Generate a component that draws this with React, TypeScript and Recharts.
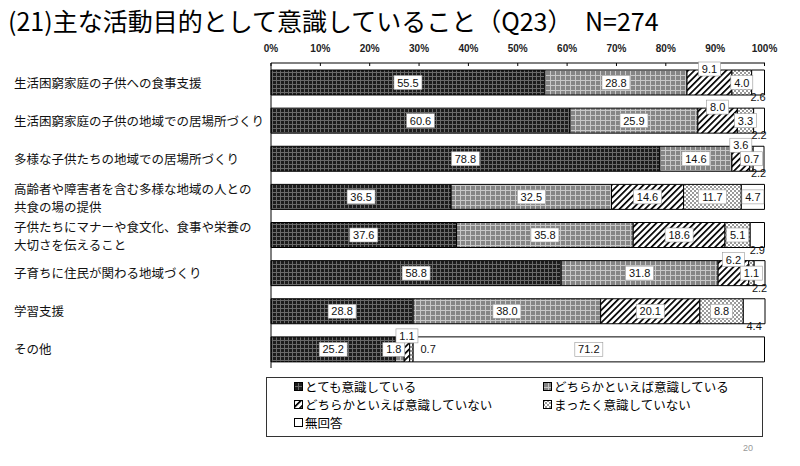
import { BarChart, Bar, XAxis, YAxis, LabelList } from "recharts";

const categories = [
  "生活困窮家庭の子供への食事支援",
  "生活困窮家庭の子供の地域での居場所づくり",
  "多様な子供たちの地域での居場所づくり",
  "高齢者や障害者を含む多様な地域の人との\n共食の場の提供",
  "子供たちにマナーや食文化、食事や栄養の\n大切さを伝えること",
  "子育ちに住民が関わる地域づくり",
  "学習支援",
  "その他",
];

const veryConscious = [55.5, 60.6, 78.8, 36.5, 37.6, 58.8, 28.8, 25.2];
const somewhatConscious = [28.8, 25.9, 14.6, 32.5, 35.8, 31.8, 38.0, 1.8];
const somewhatNot = [9.1, 8.0, 3.6, 14.6, 18.6, 6.2, 20.1, 1.1];
const notAtAll = [4.0, 3.3, 0.7, 11.7, 5.1, 1.1, 8.8, 0.7];
const noAnswer = [2.6, 2.2, 2.2, 4.7, 2.9, 2.2, 4.4, 71.2];

const xTicks = [0, 10, 20, 30, 40, 50, 60, 70, 80, 90, 100];

const seriesNames = [
  "とても意識している",
  "どちらかといえば意識している",
  "どちらかといえば意識していない",
  "まったく意識していない",
  "無回答",
];

// where each value label sits: c = centre box, t = top edge, b = bottom edge, r = right of segment
const labelPlace = [
  ["c", "c", "t", "c", "b"],
  ["c", "c", "t", "c", "b"],
  ["c", "c", "t", "c", "b"],
  ["c", "c", "c", "c", "c"],
  ["c", "c", "c", "c", "b"],
  ["c", "c", "t", "c", "b"],
  ["c", "c", "c", "c", "b"],
  ["c", "c", "t", "r", "c"],
];

const keys = ["s0", "s1", "s2", "s3", "s4"];
const fills = ["url(#p0)", "url(#p1)", "url(#p2)", "url(#p3)", "#fff"];

const data = categories.map((name, i) => ({
  name,
  s0: veryConscious[i],
  s1: somewhatConscious[i],
  s2: somewhatNot[i],
  s3: notAtAll[i],
  s4: noAnswer[i],
}));

const JP = '"Noto Sans CJK JP", "Noto Sans", sans-serif';
const NUM = '"Liberation Sans", Arial, sans-serif';

function makeLabel(si: number) {
  return (props: any) => {
    const { x, y, width, height, value, index } = props;
    const place = labelPlace[index][si];
    const txt = Number(value).toFixed(1);
    const bw = txt.length * 6 + 4;
    const bh = 14;
    let cx = x + width / 2;
    let cy = y + height / 2;
    let box = true;
    if (place === "t") {
      cy = y - 1;
    } else if (place === "b") {
      cy = y + height + 2;
      box = false;
    } else if (place === "r") {
      cx = x + width + 4 + bw / 2;
      box = false;
    }
    if (index === 7 && si === 1) cx -= 6;
    return (
      <g>
        {box && (
          <rect
            x={cx - bw / 2}
            y={cy - bh / 2}
            width={bw}
            height={bh}
            fill="#fff"
            stroke="#999"
            strokeWidth={0.6}
          />
        )}
        <text
          x={cx}
          y={cy}
          textAnchor="middle"
          dominantBaseline="central"
          fontSize={11}
          fontFamily={NUM}
          fill="#111"
        >
          {txt}
        </text>
      </g>
    );
  };
}

function XTick(props: any) {
  const { x, y, payload } = props;
  const axisY = y + 12;
  return (
    <g>
      <text
        x={x}
        y={y + 1}
        textAnchor="middle"
        fontSize={10}
        fontWeight="bold"
        fontFamily={NUM}
        fill="#222"
      >
        {payload.value}%
      </text>
      <line x1={x} x2={x} y1={axisY} y2={axisY + 3} stroke="#000" strokeWidth={1} />
    </g>
  );
}

function YTick(props: any) {
  const { y, payload } = props;
  const lines = String(payload.value).split("\n");
  const offs = lines.length === 1 ? [0] : [-8, 10];
  return (
    <g>
      {lines.map((l, k) => (
        <text
          key={k}
          x={14}
          y={y + offs[k]}
          textAnchor="start"
          dominantBaseline="central"
          fontSize={12.5}
          fontFamily={JP}
          fill="#111"
        >
          {l}
        </text>
      ))}
    </g>
  );
}

function Swatch({ fill }: { fill: string }) {
  return (
    <svg width={9} height={9} style={{ marginRight: 2, flex: "none" }}>
      <rect x={0.5} y={0.5} width={8} height={8} fill={fill} stroke="#000" strokeWidth={1} />
    </svg>
  );
}

export default function App() {
  const legendPos = [
    { left: 27, top: 1 },
    { left: 276, top: 1 },
    { left: 27, top: 19 },
    { left: 276, top: 19 },
    { left: 27, top: 37 },
  ];
  return (
    <div
      style={{
        position: "absolute",
        left: 0,
        top: 0,
        width: 800,
        height: 466,
        background: "#fff",
        fontFamily: JP,
      }}
    >
      <div
        style={{
          position: "absolute",
          left: 8,
          top: 2,
          fontSize: 25,
          color: "#000",
          whiteSpace: "pre",
        }}
      >
        (21)主な活動目的として意識していること（Q23）　N=274
      </div>
      <BarChart
        width={800}
        height={466}
        data={data}
        layout="vertical"
        margin={{ top: 43, right: 35, bottom: 98, left: 0 }}
        barSize={25}
      >
        <defs>
          <pattern id="p0" width={4} height={4} patternUnits="userSpaceOnUse">
            <rect width={4} height={4} fill="#1c1c1c" />
            <rect x={0} y={0} width={1} height={4} fill="#6a6a6a" />
            <rect x={0} y={0} width={4} height={1} fill="#6a6a6a" />
          </pattern>
          <pattern id="p1" width={5} height={5} patternUnits="userSpaceOnUse">
            <rect width={5} height={5} fill="#858585" />
            <rect x={0} y={0} width={1} height={5} fill="#c8c8c8" />
            <rect x={0} y={0} width={5} height={1} fill="#c8c8c8" />
          </pattern>
          <pattern
            id="p2"
            width={4.5}
            height={4.5}
            patternUnits="userSpaceOnUse"
            patternTransform="rotate(45)"
          >
            <rect width={4.5} height={4.5} fill="#fff" />
            <rect x={0} y={0} width={1.7} height={4.5} fill="#000" />
          </pattern>
          <pattern id="p3" width={4} height={4} patternUnits="userSpaceOnUse">
            <rect width={4} height={4} fill="#fff" />
            <rect x={0} y={0} width={2} height={2} fill="#9a9a9a" />
            <rect x={2} y={2} width={2} height={2} fill="#9a9a9a" />
          </pattern>
        </defs>
        <XAxis
          type="number"
          orientation="top"
          domain={[0, 100]}
          ticks={xTicks}
          height={20}
          tickLine={false}
          tickSize={6}
          tickMargin={6}
          axisLine={{ stroke: "#000", strokeWidth: 1 }}
          tick={<XTick />}
          interval={0}
        />
        <YAxis
          type="category"
          dataKey="name"
          width={271}
          tickLine={false}
          axisLine={{ stroke: "#000", strokeWidth: 1 }}
          tick={<YTick />}
          interval={0}
        />
        {keys.map((k, si) => (
          <Bar
            key={k}
            dataKey={k}
            name={seriesNames[si]}
            stackId="a"
            fill={fills[si]}
            stroke="#000"
            strokeWidth={1}
            isAnimationActive={false}
          >
            <LabelList dataKey={k} content={makeLabel(si)} />
          </Bar>
        ))}
      </BarChart>
      <div
        style={{
          position: "absolute",
          left: 266,
          top: 377,
          width: 495,
          height: 58,
          border: "1.5px solid #333",
          fontSize: 12.5,
          color: "#000",
        }}
      >
        {seriesNames.map((n, i) => (
          <div
            key={n}
            style={{
              position: "absolute",
              left: legendPos[i].left,
              top: legendPos[i].top,
              height: 15,
              display: "flex",
              alignItems: "center",
              whiteSpace: "nowrap",
              lineHeight: "15px",
            }}
          >
            <Swatch fill={fills[i]} />
            {n}
          </div>
        ))}
      </div>
      <div
        style={{
          position: "absolute",
          left: 743,
          top: 443,
          fontSize: 9,
          color: "#999",
          fontFamily: NUM,
        }}
      >
        20
      </div>
    </div>
  );
}
